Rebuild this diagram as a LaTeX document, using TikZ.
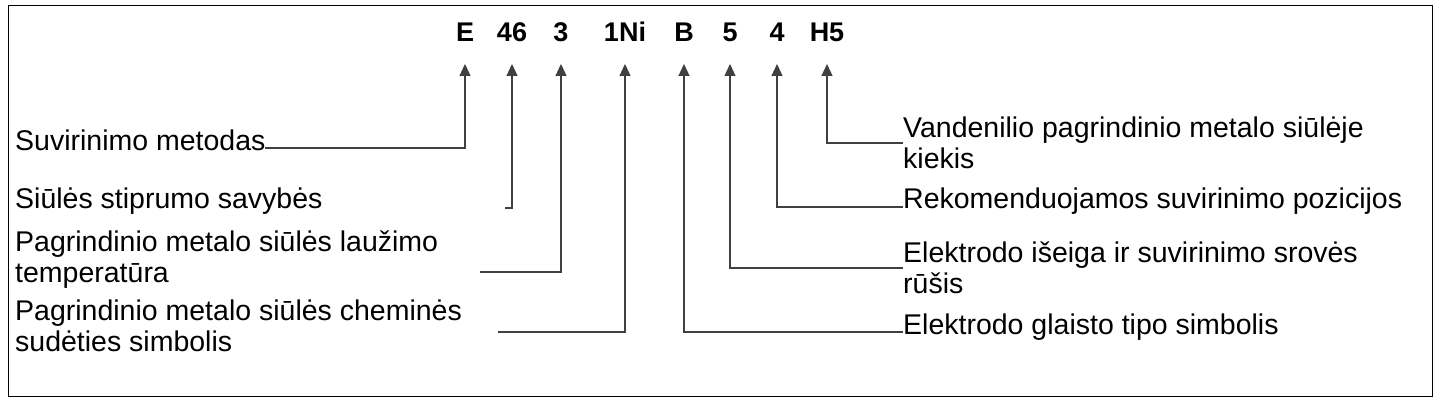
\documentclass[tikz,border=0pt]{standalone}
\usepackage{fontspec}
\setmainfont{Liberation Sans}
\usetikzlibrary{arrows.meta}

\begin{document}
\begin{tikzpicture}[x=1pt,y=-1pt,
  code/.style={font=\fontsize{27}{30}\selectfont\bfseries, inner sep=0pt},
  lab/.style={font=\fontsize{28.5}{31}\selectfont, align=left, anchor=west, inner sep=0pt},
  conn/.style={draw=black!75, line width=1.3pt},
  up/.style={conn, -{Triangle[length=12pt,width=11pt]}}]
\useasboundingbox (0,0) rectangle (1440,404);
\draw[line width=1pt] (8,6) rectangle (1432,396);

% code letters
\node[code] (cE) at (465,32) {E};
\node[code] (c46) at (512,32) {46};
\node[code] (c3) at (561,32) {3};
\node[code] (cNi) at (625,32) {1Ni};
\node[code] (cB) at (684,32) {B};
\node[code] (c5) at (730,32) {5};
\node[code] (c4) at (777,32) {4};
\node[code] (cH) at (827,32) {H5};

% arrow tips
\foreach \n/\x in {E/465,46/512,3/561,Ni/625,B/684,5/730,4/777,H/827}
  \coordinate (t\n) at (\x,64);

% left labels
\node[lab] (lE) at (15,140) {Suvirinimo metodas};
\node[lab] (l46) at (15,201) {Siūlės stiprumo savybės};
\node[lab] (l3) at (15,260) {Pagrindinio metalo siūlės laužimo\\temperatūra};
\node[lab] (lNi) at (15,326) {Pagrindinio metalo siūlės cheminės\\sudėties simbolis};

% right labels
\node[lab] (lH) at (903,143) {Vandenilio pagrindinio metalo siūlėje\\kiekis};
\node[lab] (l4) at (903,201) {Rekomenduojamos suvirinimo pozicijos};
\node[lab] (l5) at (903,268) {Elektrodo išeiga ir suvirinimo srovės\\rūšis};
\node[lab] (lB) at (903,327) {Elektrodo glaisto tipo simbolis};

% free ends
\coordinate (e46) at (505,208);
\coordinate (e3) at (480,272);
\coordinate (eNi) at (498,332);

% connectors
\draw[up] (265,148) -| (tE);
\draw[up] (e46) -| (t46);
\draw[up] (e3) -| (t3);
\draw[up] (eNi) -| (tNi);
\draw[up] (lB.west |- 0,332) -| (tB);
\draw[up] (l5.west) -| (t5);
\draw[up] (l4.west |- 0,207) -| (t4);
\draw[up] (lH.west) -| (tH);
\end{tikzpicture}
\end{document}
